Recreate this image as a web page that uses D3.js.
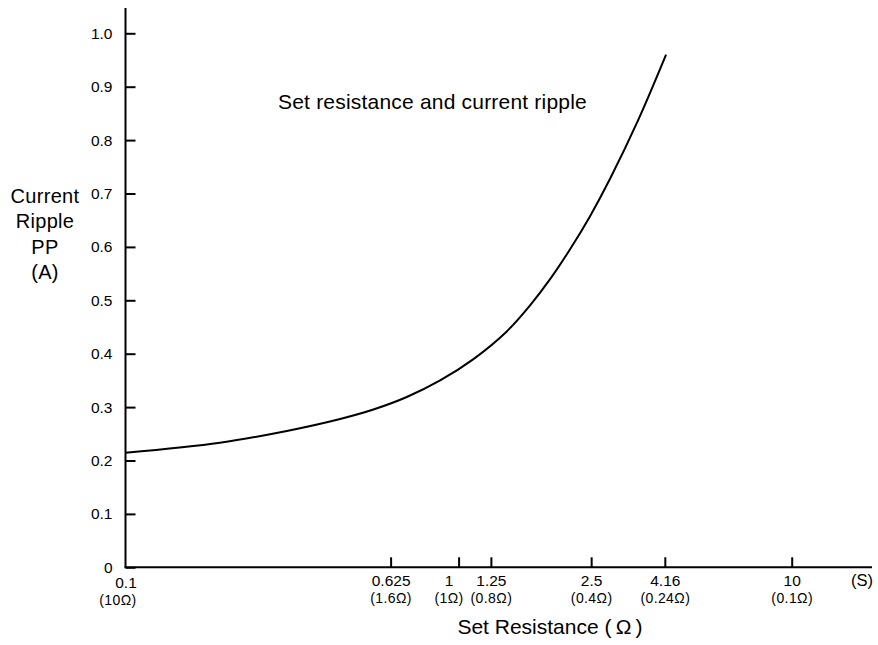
<!DOCTYPE html>
<html>
<head>
<meta charset="utf-8">
<script src="https://cdn.jsdelivr.net/npm/d3@7"></script>
<style>
  html, body { margin: 0; padding: 0; background: #fff; }
  svg { display: block; font-family: "Liberation Sans", Arial, Helvetica, sans-serif; }
</style>
</head>
<body>
<svg id="chart" width="878" height="645"></svg>
<script>
// ---- data ----
const conductance = [0.1, 0.192, 0.305, 0.441, 0.555, 0.699, 0.88, 1.108, 1.395, 1.639, 1.882, 2.161, 2.481, 2.849, 3.457, 4.196];
const ripple      = [0.2146, 0.2334, 0.2554, 0.2778, 0.2955, 0.3189, 0.3499, 0.3899, 0.4417, 0.4906, 0.5396, 0.5956, 0.6576, 0.7276, 0.8368, 0.960];
const xTickValues = [0.1, 0.625, 1, 1.25, 2.5, 4.16, 10];
const xTickLabels = ["0.1", "0.625", "1", "1.25", "2.5", "4.16", "10"];
const xTickOhms   = ["(10Ω)", "(1.6Ω)", "(1Ω)", "(0.8Ω)", "(0.4Ω)", "(0.24Ω)", "(0.1Ω)"];
const yTickValues = [0, 0.1, 0.2, 0.3, 0.4, 0.5, 0.6, 0.7, 0.8, 0.9, 1.0];
const yTickLabels = ["0", "0.1", "0.2", "0.3", "0.4", "0.5", "0.6", "0.7", "0.8", "0.9", "1.0"];
const yTitleLines = ["Current", "Ripple", "PP", "(A)"];
const chartTitle = "Set resistance and current ripple";
const xTitle = "Set Resistance (\u2009Ω\u2009)";
const xUnit = "(S)";

// ---- layout ----
const svg = d3.select("#chart");
const x = d3.scaleLog().domain([0.1, 10]).range([125.5, 791.7]);
const y = d3.scaleLinear().domain([0, 1]).range([567.3, 33.3]);
const xAxisEnd = 872;
const yAxisTop = 8;
// small hand-placement nudges seen in the original tick labels (by tick index)
const labelNudge = { 0: { dx: -8, dy: 2 }, 2: { dx: -10, dy: 0 } };

// axes lines
svg.append("line")
  .attr("x1", x(0.1)).attr("x2", x(0.1))
  .attr("y1", y(0)).attr("y2", yAxisTop)
  .attr("stroke", "#000").attr("stroke-width", 2);
svg.append("line")
  .attr("x1", x(0.1) - 1).attr("x2", xAxisEnd)
  .attr("y1", y(0)).attr("y2", y(0))
  .attr("stroke", "#000").attr("stroke-width", 2);

// y axis ticks
const yAxis = d3.axisLeft(y)
  .tickValues(yTickValues)
  .tickSize(-10)
  .tickPadding(13)
  .tickFormat((d, i) => yTickLabels[i]);
const gy = svg.append("g").attr("transform", `translate(${x(0.1)},0)`).call(yAxis);
gy.select(".domain").remove();
gy.selectAll(".tick line").attr("stroke", "#000").attr("stroke-width", 2);
gy.selectAll(".tick text").attr("font-size", 15.5).attr("fill", "#000")
  .attr("font-family", "Liberation Sans, Arial, sans-serif");

// x axis ticks
const xAxis = d3.axisBottom(x)
  .tickValues(xTickValues)
  .tickSize(-10)
  .tickFormat("");
const gx = svg.append("g").attr("transform", `translate(0,${y(0)})`).call(xAxis);
gx.select(".domain").remove();
gx.selectAll(".tick line")
  .attr("stroke", "#000").attr("stroke-width", 2)
  .attr("display", d => d === 0.1 ? "none" : null);
gx.selectAll(".tick").each(function(d, i) {
  const g = d3.select(this);
  g.select("text").remove();
  const n = labelNudge[i] || { dx: 0, dy: 0 };
  const t = g.append("text")
    .attr("text-anchor", "middle")
    .attr("fill", "#000")
    .attr("font-size", 15.5)
    .attr("font-family", "Liberation Sans, Arial, sans-serif");
  t.append("tspan").attr("x", i === 0 ? 0 : n.dx).attr("y", 19 + n.dy).text(xTickLabels[i]);
  t.append("tspan").attr("x", n.dx).attr("y", 36 + n.dy).attr("font-size", 14)
    .attr("letter-spacing", 0.4).text(xTickOhms[i]);
});

// unit label (S)
svg.append("text")
  .attr("x", 862).attr("y", y(0) + 19)
  .attr("text-anchor", "middle")
  .attr("font-size", 16.5).attr("fill", "#000")
  .text(xUnit);

// curve
const pts = conductance.map((c, i) => [c, ripple[i]]);
const line = d3.line()
  .x(d => x(d[0]))
  .y(d => y(d[1]))
  .curve(d3.curveCatmullRom.alpha(0.5));
svg.append("path")
  .datum(pts)
  .attr("d", line)
  .attr("fill", "none")
  .attr("stroke", "#000")
  .attr("stroke-width", 2);

// chart title inside plot
svg.append("text")
  .attr("x", 278).attr("y", 109)
  .attr("font-size", 21).attr("letter-spacing", 0.2).attr("fill", "#000")
  .text(chartTitle);

// y title
const yt = svg.append("text")
  .attr("text-anchor", "middle")
  .attr("font-size", 20).attr("letter-spacing", 0.3).attr("fill", "#000");
yTitleLines.forEach((s, i) => {
  yt.append("tspan").attr("x", 45).attr("y", 203 + i * 25.4).text(s);
});

// x title
svg.append("text")
  .attr("x", 550).attr("y", 634)
  .attr("text-anchor", "middle")
  .attr("font-size", 21).attr("fill", "#000")
  .text(xTitle);
</script>
</body>
</html>
